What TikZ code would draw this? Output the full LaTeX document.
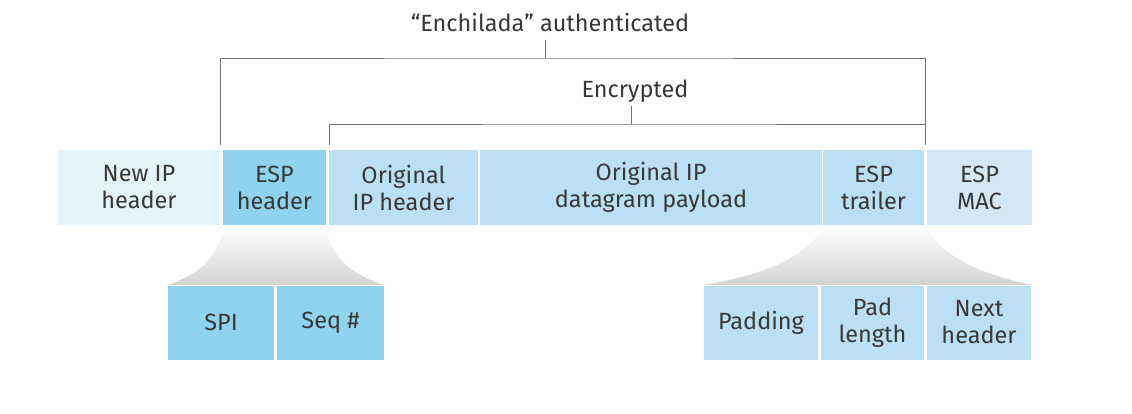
\documentclass[tikz,border=0pt]{standalone}
\usepackage{fontspec}
\setmainfont{Fira Sans}
\begin{document}
\begin{tikzpicture}[x=1pt,y=-1pt,
  txt/.style={text=black!78, font=\fontsize{23.5}{27}\selectfont, align=center},
  fld/.style={txt, inner sep=0pt, minimum height=74pt},
  brk/.style={draw=black!55, line width=0.9pt}]
\definecolor{lightest}{HTML}{E3F4FC}
\definecolor{dark}{HTML}{8FD3EF}
\definecolor{mid}{HTML}{BCE0F3}
\definecolor{mac}{HTML}{D3E7F4}
\useasboundingbox (0,0) rectangle (1132,414);
% fans
\shade[top color=white, bottom color=black!17]
  (223,226) .. controls (218,262) and (195,275) .. (168,285) -- (384,285)
  .. controls (355,275) and (332,262) .. (325,226) -- cycle;
\shade[top color=white, bottom color=black!17]
  (824,226) .. controls (805,260) and (760,275) .. (704,285) -- (1032,285)
  .. controls (985,275) and (945,260) .. (925,226) -- cycle;
% top row
\node[fld, fill=lightest, minimum width=162pt] (newip) at (139,187.5) {New IP\\header};
\node[fld, fill=dark, minimum width=103pt] (esph) at (274.5,187.5) {ESP\\header};
\node[fld, fill=mid, minimum width=149pt] (origh) at (403.5,187.5) {Original\\IP header};
\node[fld, fill=mid, minimum width=342pt] (payload) at (651,187.5) {Original IP\\datagram payload};
\node[fld, fill=mid, minimum width=101pt] (trailer) at (873.5,187.5) {ESP\\trailer};
\node[fld, fill=mac, minimum width=105pt] (mac) at (979.5,187.5) {ESP\\MAC};
% bottom rows
\node[fld, fill=dark, minimum width=106pt] (spi) at (221,322.5) {SPI};
\node[fld, fill=dark, minimum width=107pt] (seq) at (330.5,322.5) {Seq \#};
\node[fld, fill=mid, minimum width=114pt] (pad) at (761,322.5) {Padding};
\node[fld, fill=mid, minimum width=103pt] (padlen) at (872.5,322.5) {Pad\\length};
\node[fld, fill=mid, minimum width=104pt] (next) at (979,322.5) {Next\\header};
% labels
\node[txt] (auth) at (550,22) {“Enchilada” authenticated};
\node[txt] (enc) at (635,91) {Encrypted};
\coordinate (authL) at (220,145);
\coordinate (authR) at (925,124);
\coordinate (encL) at (329,145);
\coordinate (encR) at (925,145);
% brackets
\draw[brk] (545,40) -- (545,58);
\draw[brk] (authL) |- (545,58) -| (authR);
\draw[brk] (631,106) -- (631,124);
\draw[brk] (encL) |- (631,124) -| (encR);
\end{tikzpicture}
\end{document}
